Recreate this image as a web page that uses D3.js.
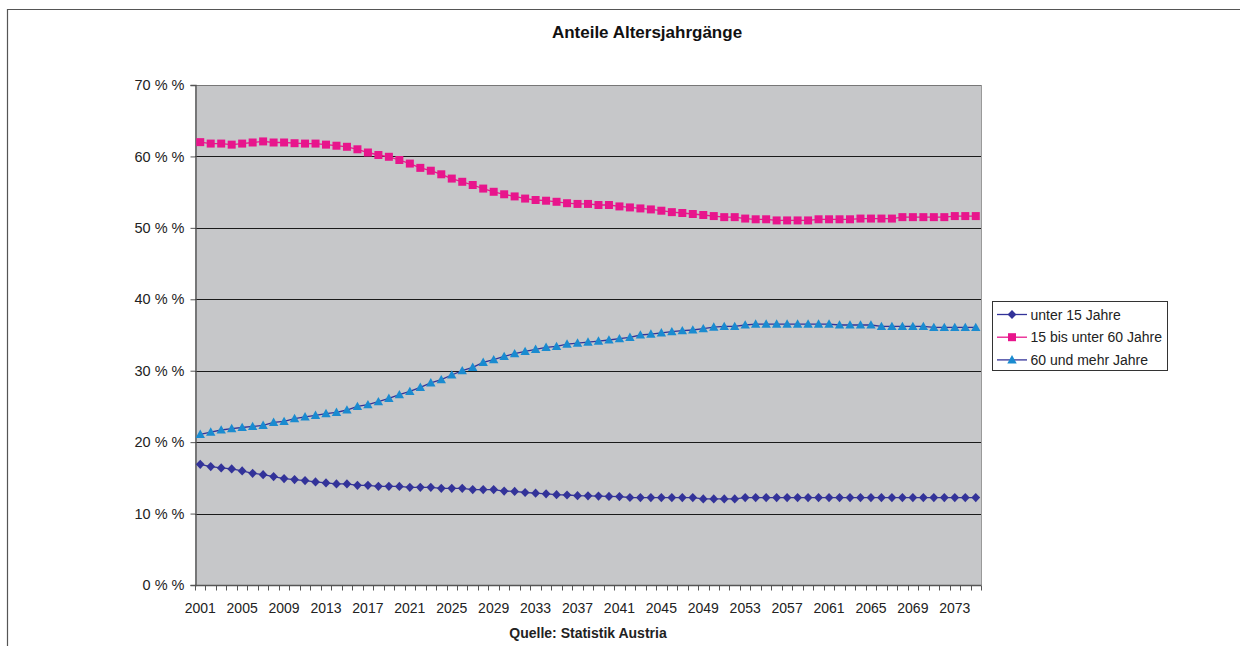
<!DOCTYPE html>
<html>
<head>
<meta charset="utf-8">
<script src="https://cdn.jsdelivr.net/npm/d3@7"></script>
<style>
  html, body { margin: 0; padding: 0; background: #fff; }
  svg { display: block; font-family: "Liberation Sans", Arial, sans-serif; }
</style>
</head>
<body>
<svg id="chart" width="1240" height="646"></svg>
<script>
const years = d3.range(2001, 2076);
const tickLabelYears = d3.range(2001, 2076, 4);
const yTicks = [0, 10, 20, 30, 40, 50, 60, 70];

const seriesNames = ["unter 15 Jahre", "15 bis unter 60 Jahre", "60 und mehr Jahre"];

const under15 = [
  16.9, 16.58, 16.39, 16.25, 15.97, 15.64, 15.45, 15.18, 14.9, 14.76,
  14.62, 14.43, 14.29, 14.15, 14.15, 13.96, 13.96, 13.82, 13.82, 13.8,
  13.68, 13.68, 13.68, 13.54, 13.54, 13.54, 13.36, 13.36, 13.36, 13.15,
  13.1, 12.95, 12.85, 12.76, 12.65, 12.6, 12.5, 12.48, 12.45, 12.4,
  12.38, 12.25, 12.24, 12.24, 12.24, 12.24, 12.24, 12.24, 12.05, 12.05,
  12.05, 12.05, 12.24, 12.24, 12.24, 12.24, 12.24, 12.24, 12.24, 12.24,
  12.24, 12.24, 12.24, 12.24, 12.24, 12.24, 12.24, 12.24, 12.24, 12.24,
  12.24, 12.24, 12.24, 12.24, 12.24
];
const from15to60 = [
  62.0, 61.8, 61.8, 61.65, 61.8, 61.95, 62.1, 61.95, 61.95, 61.85,
  61.8, 61.8, 61.65, 61.5, 61.35, 61.0, 60.55, 60.2, 59.95, 59.5,
  59.0, 58.4, 58.0, 57.5, 56.9, 56.45, 56.0, 55.5, 55.05, 54.7,
  54.4, 54.1, 53.9, 53.8, 53.65, 53.45, 53.35, 53.35, 53.2, 53.2,
  53.0, 52.86, 52.72, 52.58, 52.4, 52.2, 52.08, 51.94, 51.8, 51.65,
  51.5, 51.5, 51.3, 51.2, 51.2, 51.04, 51.04, 51.04, 51.04, 51.2,
  51.2, 51.2, 51.2, 51.3, 51.3, 51.3, 51.3, 51.5, 51.5, 51.5,
  51.5, 51.5, 51.65, 51.65, 51.65
];
const over60 = [
  21.1, 21.4, 21.7, 21.9, 22.05, 22.2, 22.35, 22.77, 22.9, 23.3,
  23.55, 23.75, 24.0, 24.17, 24.5, 25.0, 25.24, 25.66, 26.13, 26.64,
  27.1, 27.67, 28.3, 28.74, 29.4, 30.0, 30.47, 31.17, 31.54, 32.0,
  32.38, 32.7, 33.0, 33.27, 33.4, 33.73, 33.87, 34.0, 34.15, 34.3,
  34.48, 34.67, 35.0, 35.13, 35.3, 35.46, 35.6, 35.7, 35.88, 36.1,
  36.2, 36.2, 36.4, 36.52, 36.52, 36.52, 36.52, 36.52, 36.52, 36.52,
  36.52, 36.4, 36.4, 36.4, 36.4, 36.2, 36.2, 36.2, 36.2, 36.2,
  36.06, 36.06, 36.06, 36.06, 36.06
];

const svg = d3.select("#chart");
const W = 1240, H = 646;
const plot = { left: 195, right: 981, top: 85, bottom: 585 };

// outer chart frame (top and left visible)
svg.append("path")
  .attr("d", `M7.5,${H} L7.5,9.5 L${W},9.5`)
  .attr("fill", "none").attr("stroke", "#555").attr("stroke-width", 1.2);

const x = d3.scaleBand().domain(years).range([plot.left, plot.right]).padding(0);
const y = d3.scaleLinear().domain([0, 70]).range([plot.bottom, plot.top]);
const cx = yr => x(yr) + x.bandwidth() / 2;

// plot background
svg.append("rect")
  .attr("x", plot.left).attr("y", plot.top)
  .attr("width", plot.right - plot.left).attr("height", plot.bottom - plot.top)
  .attr("fill", "#c6c7c9");

// right border light
svg.append("line")
  .attr("x1", plot.right + 0.5).attr("x2", plot.right + 0.5)
  .attr("y1", plot.top).attr("y2", plot.bottom)
  .attr("stroke", "#9a9a9a");

// gridlines
svg.append("g").selectAll("line")
  .data(yTicks.filter(t => t > 0 && t < 70))
  .join("line")
  .attr("x1", plot.left).attr("x2", plot.right)
  .attr("y1", d => Math.round(y(d)) + 0.5).attr("y2", d => Math.round(y(d)) + 0.5)
  .attr("stroke", "#1a1a1a").attr("stroke-width", 1);

// top border of plot
svg.append("line")
  .attr("x1", plot.left).attr("x2", plot.right)
  .attr("y1", plot.top + 0.5).attr("y2", plot.top + 0.5)
  .attr("stroke", "#777");

// y axis
const yAxis = d3.axisLeft(y).tickValues(yTicks).tickSize(5).tickPadding(6)
  .tickFormat(d => d + " % %");
const gy = svg.append("g").attr("transform", `translate(${plot.left + 0.5},0)`).call(yAxis);
gy.select(".domain").attr("stroke", "#555").attr("stroke-width", 1.4);
gy.selectAll(".tick line").attr("stroke", "#555");
gy.selectAll(".tick text").attr("fill", "#222").style("font-size", "14.5px")
  .style("font-family", "\"Liberation Sans\", Arial, sans-serif");

// x axis
const gx = svg.append("g").attr("transform", `translate(0,${plot.bottom + 0.5})`);
gx.append("line").attr("x1", plot.left).attr("x2", plot.right + 0.5)
  .attr("y1", 0).attr("y2", 0).attr("stroke", "#555").attr("stroke-width", 1.4);
const tickPos = years.map(yr => x(yr)).concat([x.range()[1]]);
gx.selectAll("line.tk").data(tickPos).join("line").attr("class", "tk")
  .attr("x1", d => Math.round(d) + 0.5).attr("x2", d => Math.round(d) + 0.5)
  .attr("y1", 0).attr("y2", 5).attr("stroke", "#555");
gx.selectAll("text").data(tickLabelYears).join("text")
  .attr("x", d => cx(d)).attr("y", 27.5)
  .attr("text-anchor", "middle").attr("fill", "#222")
  .style("font-size", "14px").text(d => d);

// marker shapes
const diamond = "M0,-4.6L4.4,0L0,4.6L-4.4,0Z";
const square = "M-4,-4H4V4H-4Z";
const triangle = "M0,-4.8L4.7,3.6L-4.7,3.6Z";

const series = [
  { name: seriesNames[0], values: under15, line: "#333399", fill: "#333399", shape: diamond },
  { name: seriesNames[1], values: from15to60, line: "#e8198c", fill: "#e8158c", shape: square },
  { name: seriesNames[2], values: over60, line: "#333399", fill: "#1a8bd0", shape: triangle }
];

const lineGen = d3.line().x((d, i) => cx(years[i])).y(d => y(d));

series.forEach(s => {
  svg.append("path").datum(s.values)
    .attr("d", lineGen).attr("fill", "none")
    .attr("stroke", s.line).attr("stroke-width", 1.3);
  svg.append("g").selectAll("path").data(s.values).join("path")
    .attr("transform", (d, i) => `translate(${cx(years[i])},${y(d)})`)
    .attr("d", s.shape).attr("fill", s.fill);
});

// title
svg.append("text").attr("x", 647).attr("y", 38).attr("text-anchor", "middle")
  .style("font-size", "17px").style("font-weight", "bold").attr("fill", "#111")
  .text("Anteile Altersjahrgänge");

// source
svg.append("text").attr("x", 588).attr("y", 638).attr("text-anchor", "middle")
  .style("font-size", "14px").style("font-weight", "bold").attr("fill", "#222")
  .text("Quelle: Statistik Austria");

// legend
const lg = svg.append("g");
lg.append("rect").attr("x", 992.5).attr("y", 301.5).attr("width", 175).attr("height", 69)
  .attr("fill", "#fff").attr("stroke", "#333").attr("stroke-width", 1);
series.forEach((s, i) => {
  const ly = 314.5 + i * 22.7;
  lg.append("line").attr("x1", 997).attr("x2", 1027).attr("y1", ly).attr("y2", ly)
    .attr("stroke", s.line).attr("stroke-width", 1.3);
  lg.append("path").attr("transform", `translate(1012,${ly})`).attr("d", s.shape).attr("fill", s.fill);
  lg.append("text").attr("x", 1030.5).attr("y", ly + 5).style("font-size", "14px")
    .attr("fill", "#222").text(s.name);
});
</script>
</body>
</html>
